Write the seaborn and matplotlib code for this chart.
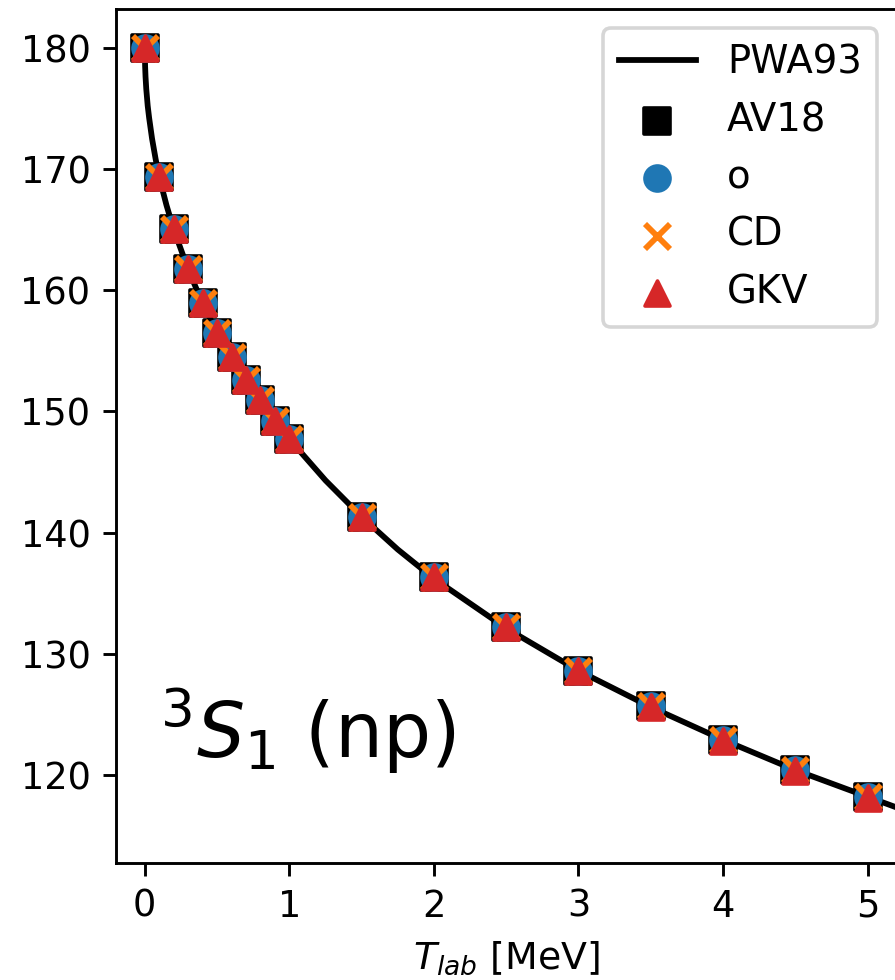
import matplotlib
matplotlib.use("Agg")
import matplotlib.pyplot as plt
import seaborn as sns
import pandas as pd

# Lab energies (MeV) at which the potentials are evaluated
t_lab = [0.0, 0.1, 0.2, 0.3, 0.4, 0.5, 0.6, 0.7, 0.8, 0.9, 1.0,
         1.5, 2.0, 2.5, 3.0, 3.5, 4.0, 4.5, 5.0]

# 3S1 np phase shifts (degrees) for each potential
delta_av18 = [180.0, 169.3, 165.0, 161.7, 158.9, 156.5, 154.5, 152.6, 150.9, 149.2, 147.7,
              141.3, 136.3, 132.2, 128.6, 125.7, 122.9, 120.4, 118.2]
delta_o = [180.0, 169.3, 165.0, 161.7, 158.9, 156.5, 154.5, 152.6, 150.9, 149.2, 147.7,
           141.3, 136.3, 132.2, 128.6, 125.7, 122.9, 120.4, 118.2]
delta_cd = [180.0, 169.3, 165.0, 161.7, 158.9, 156.5, 154.5, 152.6, 150.9, 149.2, 147.7,
            141.3, 136.3, 132.2, 128.6, 125.7, 122.9, 120.4, 118.2]
delta_gkv = [180.0, 169.3, 165.0, 161.7, 158.9, 156.5, 154.5, 152.6, 150.9, 149.2, 147.7,
             141.3, 136.3, 132.2, 128.6, 125.6, 122.8, 120.3, 118.1]

# PWA93 reference curve
t_pwa = [0.0, 0.002, 0.005, 0.01, 0.02, 0.03, 0.05, 0.075, 0.1, 0.15, 0.2, 0.3, 0.4,
         0.5, 0.6, 0.7, 0.8, 0.9, 1.0, 1.25, 1.5, 1.75, 2.0, 2.5, 3.0, 3.5, 4.0,
         4.5, 5.0, 5.5]
delta_pwa = [180.0, 178.5, 177.6, 176.6, 175.2, 174.2, 172.5, 170.8, 169.3, 167.0, 165.0,
             161.7, 158.9, 156.5, 154.4, 152.6, 150.9, 149.3, 147.7, 144.3, 141.3, 138.6,
             136.2, 132.1, 128.6, 125.6, 122.9, 120.4, 118.2, 116.0]

W, H, DPI = 895, 980, 260
fig = plt.figure(figsize=(W / DPI, H / DPI), dpi=DPI)
ax = fig.add_axes([115.9 / W, (H - 862.7) / H, (896.5 - 115.9) / W, (862.7 - 9.0) / H])

pwa = pd.DataFrame({"T": t_pwa, "delta": delta_pwa})
sns.lineplot(data=pwa, x="T", y="delta", color="black", lw=1.6, label="PWA93",
             ax=ax, zorder=1.5, sort=False)

size = 48
series = [
    (delta_av18, "AV18", "s", "black"),
    (delta_o, "o", "o", "#1f77b4"),
    (delta_cd, "CD", "x", "#ff7f0e"),
    (delta_gkv, "GKV", "^", "#d62728"),
]
for i, (vals, name, marker, color) in enumerate(series):
    df = pd.DataFrame({"T": t_lab, "delta": vals})
    if marker == "x":
        style = dict(linewidth=1.6)
    else:
        style = dict(edgecolor=color, linewidth=1.0)
    sns.scatterplot(data=df, x="T", y="delta", marker=marker, color=color,
                    s=size, label=name, ax=ax, zorder=3 + i, **style)

ax.set_xlim(-0.2, 5.2)
ax.set_ylim(112.76, 183.19)
ax.set_xticks([0, 1, 2, 3, 4, 5])
ax.set_yticks([120, 130, 140, 150, 160, 170, 180])
ax.set_xlabel(r"$T_{lab}$ [MeV]", fontsize=10.5)
ax.set_ylabel("")
ax.tick_params(labelsize=10.2)

ax.text(0.056, 0.123, r"$^3S_1$ (np)", transform=ax.transAxes, fontsize=21,
        va="baseline", ha="left")

ax.legend(loc="upper right", fontsize=10.7)

fig.savefig("out.png", dpi=DPI)
